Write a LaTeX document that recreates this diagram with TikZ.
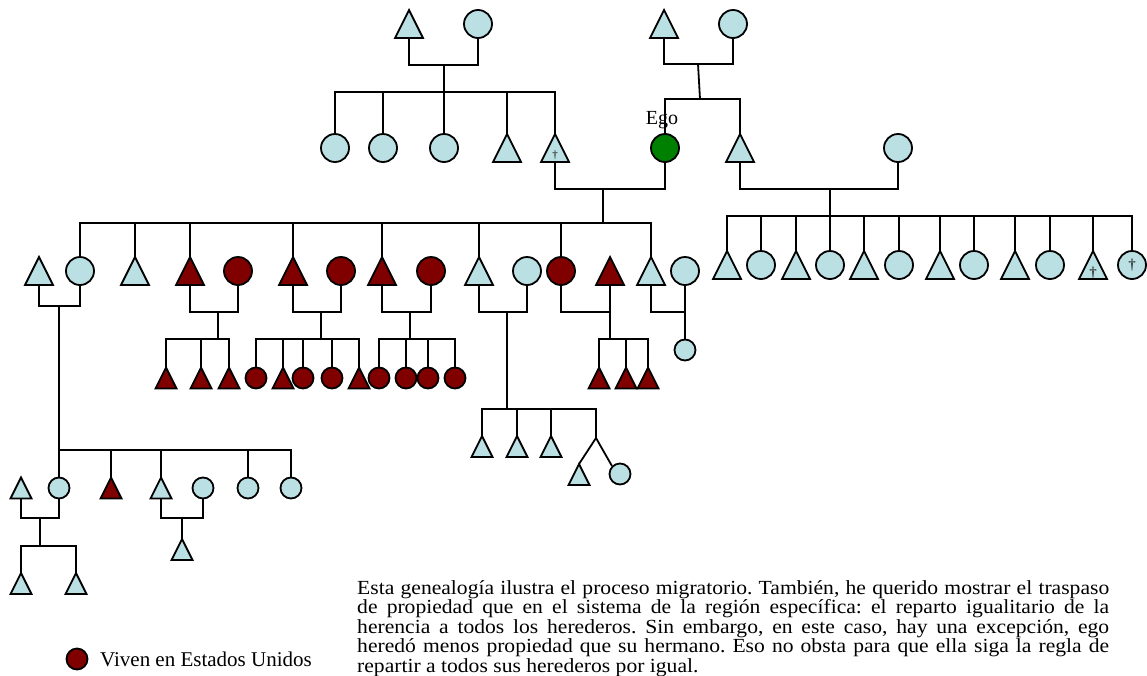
\documentclass[tikz,border=0pt]{standalone}
\usepackage{fontspec}
\setmainfont{Liberation Serif}
\newfontfamily\parafont[FakeStretch=1.08]{Liberation Serif}
\definecolor{lb}{RGB}{187,224,227}
\definecolor{dr}{RGB}{128,0,0}
\definecolor{eg}{RGB}{0,128,0}
\tikzset{
 ln/.style={line width=1.8pt},
 bigc/.style={circle, draw, line width=1.8pt, minimum size=28pt, inner sep=0pt},
 smc/.style={circle, draw, line width=1.8pt, minimum size=21pt, inner sep=0pt},
 bigt/.style={rectangle, minimum width=28pt, minimum height=28pt, inner sep=0pt, outer sep=0pt},
 smt/.style={rectangle, minimum width=21pt, minimum height=21pt, inner sep=0pt, outer sep=0pt},
 dag/.style={inner sep=0pt, font=\fontsize{#1}{#1}\selectfont},
}
\newcommand\mktri[5]{\node[#1] (#2) at (#3,#4) {};
 \draw[ln, line join=miter, fill=#5] (#2.south west) -- (#2.north) -- (#2.south east) -- cycle;}
\newcommand\mkcirc[5]{\node[#1, fill=#5] (#2) at (#3,#4) {};}
\newcommand\drp[2]{\draw[ln] (#1.north) -- (#1.north |- #2);}
\begin{document}
\begin{tikzpicture}[x=1pt,y=-1pt]
\fill[white] (0,0) rectangle (1147,675);
\useasboundingbox (0,0) rectangle (1147,675);

% ---------- top-left grandparents ----------
\mktri{bigt}{g1}{409}{24}{lb}
\mkcirc{bigc}{g2}{478}{24}{lb}
\coordinate (mg12) at (444,65);
\draw[ln] (g1.south) |- (mg12) -| (g2.south);
\coordinate (sbA) at (444,92);
\draw[ln] (mg12) -- (sbA);
\mkcirc{bigc}{a1}{335}{148}{lb}
\mkcirc{bigc}{a2}{383}{148}{lb}
\mkcirc{bigc}{a3}{444}{148}{lb}
\mktri{bigt}{a4}{507}{148}{lb}
\mktri{bigt}{a5}{555}{148}{lb}
\node[dag=11] at (555,155) {†};
\draw[ln] (a1.north) |- (sbA) -| (a5.north);
\drp{a2}{sbA} \drp{a3}{sbA} \drp{a4}{sbA}

% ---------- top-right grandparents ----------
\mktri{bigt}{g3}{664}{24}{lb}
\mkcirc{bigc}{g4}{733}{24}{lb}
\coordinate (mg34) at (698,64);
\draw[ln] (g3.south) |- (mg34) -| (g4.south);
\coordinate (sbB) at (700,99);
\draw[ln] (mg34) -- (sbB);
\mkcirc{bigc}{ego}{665}{148}{eg}
\mktri{bigt}{b2}{740}{148}{lb}
\draw[ln] (ego.north) |- (sbB) -| (b2.north);
\node[font=\fontsize{20}{20}\selectfont, anchor=base, inner sep=0pt] (egolbl) at (662,124) {Ego};

% ---------- Ego marriage ----------
\coordinate (mE) at (603,189);
\draw[ln] (a5.south) |- (mE) -| (ego.south);
\coordinate (sbC) at (603,223);
\draw[ln] (mE) -- (sbC);

% ---------- right family ----------
\mkcirc{bigc}{b3}{898}{148}{lb}
\coordinate (mB) at (830,189);
\draw[ln] (b2.south) |- (mB) -| (b3.south);
\coordinate (sbD) at (830,216);
\draw[ln] (mB) -- (sbD);
\mktri{bigt}{r1}{727}{265}{lb}
\mkcirc{bigc}{r2}{761}{265}{lb}
\mktri{bigt}{r3}{796}{265}{lb}
\mkcirc{bigc}{r4}{830}{265}{lb}
\mktri{bigt}{r5}{864}{265}{lb}
\mkcirc{bigc}{r6}{899}{265}{lb}
\mktri{bigt}{r7}{940}{265}{lb}
\mkcirc{bigc}{r8}{974}{265}{lb}
\mktri{bigt}{r9}{1015}{265}{lb}
\mkcirc{bigc}{r10}{1050}{265}{lb}
\mktri{bigt}{r11}{1093}{265}{lb}
\mkcirc{bigc}{r12}{1132}{265}{lb}
\node[dag=15] at (1093,273) {†};
\node[dag=15] at (1132,265) {†};
\draw[ln] (r1.north) |- (sbD) -| (r12.north);
\drp{r2}{sbD} \drp{r3}{sbD} \drp{r4}{sbD} \drp{r5}{sbD} \drp{r6}{sbD}
\drp{r7}{sbD} \drp{r8}{sbD} \drp{r9}{sbD} \drp{r10}{sbD} \drp{r11}{sbD}

% ---------- Ego's children ----------
\mktri{bigt}{h1}{39}{271}{lb}
\mkcirc{bigc}{c1}{80}{271}{lb}
\mktri{bigt}{c2}{135}{271}{lb}
\mktri{bigt}{c3}{190}{271}{dr}
\mkcirc{bigc}{w3}{238}{271}{dr}
\mktri{bigt}{c4}{293}{271}{dr}
\mkcirc{bigc}{w4}{341}{271}{dr}
\mktri{bigt}{c5}{382}{271}{dr}
\mkcirc{bigc}{w5}{431}{271}{dr}
\mktri{bigt}{c6}{479}{271}{lb}
\mkcirc{bigc}{w6}{527}{271}{lb}
\mkcirc{bigc}{c7}{561}{271}{dr}
\mktri{bigt}{h7}{610}{271}{dr}
\mktri{bigt}{c8}{651}{271}{lb}
\mkcirc{bigc}{w8}{685}{271}{lb}
\draw[ln] (c1.north) |- (sbC) -| (c8.north);
\drp{c2}{sbC} \drp{c3}{sbC} \drp{c4}{sbC} \drp{c5}{sbC} \drp{c6}{sbC} \drp{c7}{sbC}

% marriages of the children
\coordinate (m1) at (59,306);
\draw[ln] (h1.south) |- (m1) -| (c1.south);
\coordinate (m3) at (218,312);
\draw[ln] (c3.south) |- (m3) -| (w3.south);
\coordinate (m4) at (321,312);
\draw[ln] (c4.south) |- (m4) -| (w4.south);
\coordinate (m5) at (410,312);
\draw[ln] (c5.south) |- (m5) -| (w5.south);
\coordinate (m6) at (507,312);
\draw[ln] (c6.south) |- (m6) -| (w6.south);
\coordinate (m7) at (610,312);
\draw[ln] (c7.south) |- (m7);
\draw[ln] (h7.south) -- (m7);
\coordinate (m8) at (685,312);
\draw[ln] (c8.south) |- (m8);

% grandchildren of c3
\coordinate (k3) at (218,339);
\draw[ln] (m3) -- (k3);
\mktri{smt}{k3a}{166}{378}{dr}
\mktri{smt}{k3b}{201}{378}{dr}
\mktri{smt}{k3c}{229}{378}{dr}
\draw[ln] (k3a.north) |- (k3) -| (k3c.north);
\drp{k3b}{k3}

% grandchildren of c4
\coordinate (k4) at (321,339);
\draw[ln] (m4) -- (k4);
\mkcirc{smc}{k4a}{256}{378}{dr}
\mktri{smt}{k4b}{283}{378}{dr}
\mkcirc{smc}{k4c}{303}{378}{dr}
\mkcirc{smc}{k4d}{332}{378}{dr}
\mktri{smt}{k4e}{359}{378}{dr}
\draw[ln] (k4a.north) |- (k4) -| (k4e.north);
\drp{k4b}{k4} \drp{k4c}{k4} \drp{k4d}{k4}

% grandchildren of c5
\coordinate (k5) at (410,339);
\draw[ln] (m5) -- (k5);
\mkcirc{smc}{k5a}{379}{378}{dr}
\mkcirc{smc}{k5b}{406}{378}{dr}
\mkcirc{smc}{k5c}{428}{378}{dr}
\mkcirc{smc}{k5d}{455}{378}{dr}
\draw[ln] (k5a.north) |- (k5) -| (k5d.north);
\drp{k5b}{k5} \drp{k5c}{k5}

% grandchildren of c7
\coordinate (k7) at (610,339);
\draw[ln] (m7) -- (k7);
\mktri{smt}{k7a}{599}{378}{dr}
\mktri{smt}{k7b}{626}{378}{dr}
\mktri{smt}{k7c}{648}{378}{dr}
\draw[ln] (k7a.north) |- (k7) -| (k7c.north);
\drp{k7b}{k7}

% grandchild of c8
\mkcirc{smc}{k8}{685}{350}{lb}
\draw[ln] (w8.south) -- (k8.north);

% grandchildren of c6
\coordinate (k6) at (507,409);
\draw[ln] (m6) -- (k6);
\mktri{smt}{k6a}{482}{446.5}{lb}
\mktri{smt}{k6b}{517}{446.5}{lb}
\mktri{smt}{k6c}{551}{446.5}{lb}
\coordinate (fork) at (596,438);
\draw[ln] (k6a.north) |- (k6) -| (fork);
\drp{k6b}{k6} \drp{k6c}{k6}
\mktri{smt}{k6d}{579}{474.5}{lb}
\mkcirc{smc}{k6e}{620}{474}{lb}
\draw[ln] (fork) -- (k6d.north);
\draw[ln] (fork) -- (k6e.north west);

% grandchildren of c1
\coordinate (k1) at (59,450);
\draw[ln] (m1) -- (k1);
\mktri{smt}{e1}{21}{488}{lb}
\mkcirc{smc}{d1}{59}{488}{lb}
\mktri{smt}{d2}{111}{488}{dr}
\mktri{smt}{d3}{161}{488}{lb}
\mkcirc{smc}{e3}{203}{488}{lb}
\mkcirc{smc}{d4}{248}{488}{lb}
\mkcirc{smc}{d5}{291}{488}{lb}
\draw[ln] (d1.north) |- (k1) -| (d5.north);
\drp{d2}{k1} \drp{d3}{k1} \drp{d4}{k1}
% great-grandchildren
\coordinate (mA) at (40,518);
\draw[ln] (e1.south) |- (mA) -| (d1.south);
\coordinate (kA) at (40,546);
\draw[ln] (mA) -- (kA);
\mktri{smt}{f1}{21}{583.5}{lb}
\mktri{smt}{f2}{76}{583.5}{lb}
\draw[ln] (f1.north) |- (kA) -| (f2.north);
\coordinate (mBb) at (182,518);
\draw[ln] (d3.south) |- (mBb) -| (e3.south);
\mktri{smt}{f3}{182}{549.5}{lb}
\draw[ln] (mBb) -- (f3.north);

% ---------- legend ----------
\mkcirc{smc}{leg}{77}{659}{dr}
\node[anchor=base west, inner sep=0pt, font=\fontsize{21}{24}\selectfont] (legtxt) at (100,666) {Viven en Estados Unidos};

% ---------- paragraph ----------
\node[anchor=base west, inner sep=0pt] (txt) at (357,594) {\parbox[t]{752pt}{\parafont\fontsize{20}{19.5}\selectfont
\frenchspacing\lineskiplimit=-100pt \tolerance=10000 \hyphenpenalty=10000 \parfillskip=0pt plus 1fil
Esta genealogía ilustra el proceso migratorio. También, he querido mostrar el traspaso\linebreak
de propiedad que en el sistema de la región específica: el reparto igualitario de la\linebreak
herencia a todos los herederos. Sin embargo, en este caso, hay una excepción, ego\linebreak
heredó menos propiedad que su hermano. Eso no obsta para que ella siga la regla de\linebreak
repartir a todos sus herederos por igual.}};
\end{tikzpicture}
\end{document}
